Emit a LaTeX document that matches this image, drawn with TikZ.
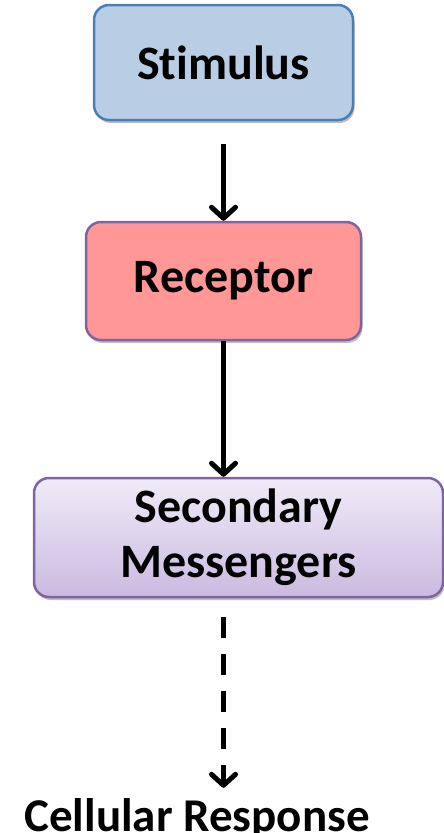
\documentclass[tikz,border=0pt]{standalone}
\usepackage{fontspec}
\setmainfont{Carlito}[Ligatures=NoCommon]
\usetikzlibrary{arrows.meta,shadows}
\definecolor{stimfill}{HTML}{B9CDE5}
\definecolor{stimedge}{HTML}{4A7EBB}
\definecolor{recfill}{HTML}{FF9797}
\definecolor{purpedge}{HTML}{8064A2}
\definecolor{secTop}{HTML}{F0EBF7}
\definecolor{secBot}{HTML}{CBBAE1}
\tikzset{
  box/.style={rounded corners=15pt, line width=2.5pt, inner sep=0pt,
    font=\fontsize{48}{55}\selectfont\bfseries,
    drop shadow={shadow xshift=1.5pt, shadow yshift=-3pt, opacity=0.25, fill=black}},
  conn/.style={line width=5pt, -{Straight Barb[length=11pt,width=24pt,line cap=round,line join=round]}},
}
\begin{document}
\begin{tikzpicture}[x=1pt,y=-1pt]
\useasboundingbox (0,0) rectangle (444,833);
\node[box, draw=stimedge, fill=stimfill, minimum width=259pt, minimum height=115pt] (stim) at (223.5,62.5) {Stimulus};
\node[box, draw=purpedge, fill=recfill, minimum width=275pt, minimum height=118pt] (rec) at (223.5,281) {Receptor};
\node[box, draw=purpedge, top color=secTop, bottom color=secBot, minimum width=409pt, minimum height=119pt, align=center] (sec) at (238.5,537.5) {Secondary\\Messengers};
\node[font=\fontsize{47}{55}\selectfont\bfseries, anchor=base, inner sep=0pt] (resp) at (197,831) {Cellular Response};
\draw[conn] ([yshift=-23pt]stim.south) -- (rec.north);
\draw[conn] (rec.south) -- (rec.south |- sec.north);
\draw[conn, dash pattern=on 21pt off 16pt] ([yshift=-19pt]sec.south -| stim.south) -- ([yshift=10pt]resp.north -| stim.south);
\end{tikzpicture}
\end{document}
